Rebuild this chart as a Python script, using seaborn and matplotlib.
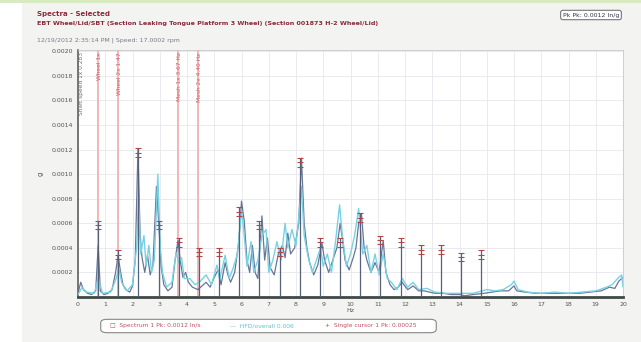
import matplotlib
matplotlib.use("Agg")
import matplotlib.pyplot as plt
from matplotlib.patches import Rectangle, FancyBboxPatch
import numpy as np
import pandas as pd
import seaborn as sns

# Spectrum traces (frequency in Hz, amplitude in units of 1e-4 g)
dark_freq = [0.0, 0.1, 0.2, 0.35, 0.5, 0.65, 0.74, 0.82, 0.95, 1.1, 1.25, 1.38, 1.47, 1.55, 1.65,
             1.75, 1.9, 2.0, 2.1, 2.2, 2.28, 2.35, 2.45, 2.55, 2.65, 2.75, 2.88, 2.95, 3.05, 3.15,
             3.3, 3.45, 3.55, 3.67, 3.75, 3.85, 3.95, 4.05, 4.2, 4.4, 4.55, 4.7, 4.85, 5.0, 5.14,
             5.25, 5.4, 5.5, 5.6, 5.75, 5.9, 6.0, 6.1, 6.2, 6.3, 6.4, 6.5, 6.6, 6.75, 6.85, 6.95,
             7.05, 7.2, 7.35, 7.5, 7.6, 7.7, 7.8, 7.95, 8.1, 8.2, 8.3, 8.4, 8.5, 8.65, 8.8, 8.95,
             9.05, 9.2, 9.35, 9.5, 9.62, 9.7, 9.8, 9.95, 10.1, 10.2, 10.3, 10.4, 10.5, 10.6, 10.75,
             10.9, 11.05, 11.2, 11.3, 11.45, 11.6, 11.75, 11.9, 11.96, 12.1, 12.3, 12.5, 12.7, 12.9,
             13.1, 13.4, 13.7, 14.0, 14.2, 14.5, 14.9, 15.2, 15.5, 15.8, 16.0, 16.1, 16.4, 16.8,
             17.2, 17.6, 18.0, 18.4, 18.8, 19.2, 19.5, 19.7, 19.85, 20.0]
dark_amp = [0.3, 1.2, 0.6, 0.3, 0.2, 0.5, 4.2, 0.5, 0.2, 0.3, 0.6, 2.0, 3.4, 2.2, 1.0,
            0.6, 0.4, 0.9, 3.0, 12.0, 5.0, 3.2, 2.0, 3.4, 1.8, 2.6, 9.0, 6.5, 2.5, 1.0,
            0.5, 0.8, 2.8, 4.6, 3.0, 1.6, 2.0, 1.2, 0.8, 0.6, 0.9, 1.2, 0.8, 1.6, 2.2,
            1.0, 2.8, 1.8, 1.2, 2.0, 4.5, 7.8, 6.2, 3.0, 2.0, 4.2, 2.0, 1.5, 6.6, 3.0, 4.8,
            2.4, 1.8, 3.5, 4.2, 3.2, 5.2, 3.5, 4.0, 6.0, 11.3, 6.0, 4.0, 2.8, 1.8, 2.6, 4.4,
            3.0, 2.0, 3.0, 4.0, 6.0, 4.8, 3.0, 2.2, 3.2, 4.0, 6.0, 6.8, 4.0, 3.0, 2.0,
            2.8, 2.0, 4.6, 2.0, 1.0, 0.6, 0.8, 1.2, 1.0, 0.6, 0.9, 0.5, 0.5, 0.4,
            0.3, 0.3, 0.2, 0.2, 0.1, 0.2, 0.3, 0.4, 0.5, 0.5, 0.9, 0.5, 0.4, 0.3,
            0.3, 0.3, 0.3, 0.3, 0.4, 0.5, 0.8, 0.7, 1.3, 1.6]

cyan_freq = [0.0, 0.15, 0.3, 0.6, 0.74, 0.9, 1.2, 1.4, 1.5, 1.6, 1.8, 2.0, 2.15, 2.22, 2.3, 2.42,
             2.5, 2.6, 2.7, 2.8, 2.93, 3.02, 3.1, 3.25, 3.45, 3.6, 3.7, 3.8, 3.9, 4.1, 4.3, 4.5,
             4.7, 4.9, 5.1, 5.2, 5.4, 5.55, 5.7, 5.85, 6.0, 6.08, 6.2, 6.35, 6.45, 6.6, 6.75, 6.9,
             7.0, 7.15, 7.3, 7.45, 7.6, 7.7, 7.85, 8.0, 8.1, 8.2, 8.3, 8.45, 8.6, 8.75, 8.9, 9.0,
             9.15, 9.3, 9.45, 9.6, 9.7, 9.85, 10.0, 10.15, 10.3, 10.45, 10.6, 10.75, 10.9, 11.05,
             11.2, 11.35, 11.5, 11.7, 11.9, 12.1, 12.3, 12.5, 12.8, 13.1, 13.5, 14.0, 14.5, 15.0,
             15.3, 15.6, 15.9, 16.0, 16.15, 16.5, 17.0, 17.5, 18.0, 18.5, 19.0, 19.4, 19.6, 19.8,
             19.95, 20.0]
cyan_amp = [0.2, 0.8, 0.4, 0.3, 1.5, 0.3, 0.4, 1.5, 2.4, 1.2, 0.5, 1.0, 4.0, 8.0, 3.5, 5.0,
            2.5, 4.2, 2.0, 3.0, 10.0, 4.0, 2.0, 0.8, 1.2, 3.6, 2.8, 3.2, 1.5, 1.5, 1.0, 1.3,
            1.8, 1.0, 2.6, 1.4, 3.4, 1.5, 2.4, 3.5, 7.0, 5.5, 2.5, 4.5, 2.0, 3.0, 5.0, 5.5,
            2.0, 3.0, 4.5, 3.0, 6.0, 4.0, 5.5, 4.2, 6.5, 9.0, 5.0, 3.2, 2.0, 3.0, 4.0, 2.5,
            3.5, 2.0, 4.5, 7.5, 5.0, 2.5, 3.5, 5.0, 7.2, 3.5, 4.2, 2.0, 3.5, 1.8,
            3.5, 1.5, 1.2, 0.6, 1.5, 0.8, 1.2, 0.6, 0.7, 0.4, 0.3, 0.3, 0.3, 0.6,
            0.5, 0.6, 1.0, 1.3, 0.6, 0.4, 0.3, 0.4, 0.3, 0.4, 0.5, 0.8, 1.0, 1.5,
            1.8, 0.8]

# Harmonic cursor family: fundamental and peak heights (1e-4 g)
harmonic_f0 = 0.74
harmonic_amp = [6.2, 3.8, 12.1, 6.2, 4.8, 4.0, 4.0, 7.3, 6.2, 4.0, 11.3, 4.8, 4.8, 6.8, 5.0,
                4.8, 4.2, 4.2, 3.6, 3.8]

# Fault frequency lines and their labels
fault_freq = [0.0, 0.74, 1.47, 3.67, 4.40]
fault_labels = ["Shaft speed 1x 0.283", "Wheel 1x", "Wheel 2x 1.47", "Mesh 1x 3.67 Hz", "Mesh 2x 4.40 Hz"]
fault_colors = ["#707070", "#d06060", "#d06060", "#d06060", "#d06060"]

x_ticks = list(range(0, 21))
y_ticks = [0.0002, 0.0004, 0.0006, 0.0008, 0.0010, 0.0012, 0.0014, 0.0016, 0.0018, 0.0020]

scale = 1e-4
dark_df = pd.DataFrame({"Hz": dark_freq, "g": np.array(dark_amp) * scale})
cyan_df = pd.DataFrame({"Hz": cyan_freq, "g": np.array(cyan_amp) * scale})

sns.set_theme(style="white")
plt.rcParams["font.family"] = ["DejaVu Sans"]

fig = plt.figure(figsize=(6.41, 3.42), dpi=100, facecolor="#f3f3f1")
# white strip on the left edge and thin green rule along the top
fig.patches.append(Rectangle((0, 0), 22 / 641, 1, transform=fig.transFigure,
                             facecolor="white", edgecolor="none", zorder=0))
fig.patches.append(Rectangle((0, 1 - 3 / 342), 1, 3 / 342, transform=fig.transFigure,
                             facecolor="#d6ebc4", edgecolor="none", zorder=0))

ax = fig.add_axes([78 / 641, 45 / 342, 545 / 641, 247 / 342])
ax.set_facecolor("white")

# grid
for xt in x_ticks:
    ax.axvline(xt, color="#e6e6ee", lw=0.6, zorder=0)
for yt in y_ticks:
    ax.axhline(yt, color="#e6e6ee", lw=0.6, zorder=0)

# fault frequency lines
for f, lab, c in zip(fault_freq, fault_labels, fault_colors):
    if f > 0:
        ax.axvline(f, color="#f0b8b8", lw=1.4, zorder=1)
    ax.text(f + 0.05, 0.00199, lab, rotation=90, va="top", ha="left" if f == 0 else "center",
            fontsize=4.2, color=c, zorder=5)

sns.lineplot(data=cyan_df, x="Hz", y="g", ax=ax, color="#78d2e4", lw=1.0, zorder=3)
sns.lineplot(data=dark_df, x="Hz", y="g", ax=ax, color="#56688c", lw=0.9, zorder=2, alpha=0.9)

# harmonic cursors
for n, h in enumerate(harmonic_amp, start=1):
    f = n * harmonic_f0
    top = h * scale
    ax.plot([f, f], [0, top], color="#55607a", lw=0.9, zorder=4)
    for k in range(3):
        ax.plot(f, top - k * 0.000035, marker="_", ms=4, mew=0.8, color="#b04848", zorder=5)

ax.set_xlim(0, 20)
ax.set_ylim(0, 0.00201)
ax.set_xticks(x_ticks)
ax.set_xticklabels([str(t) for t in x_ticks], fontsize=4.5, color="#555555")
ax.set_yticks(y_ticks)
ax.set_yticklabels([f"{t:.4f}" for t in y_ticks], fontsize=4.5, color="#555555")
ax.tick_params(length=2, width=0.5, pad=1.5)
ax.set_xlabel("Hz", fontsize=4.5, color="#555555", labelpad=1)
ax.set_ylabel("g", fontsize=5, color="#555555", labelpad=6)

for s in ["top", "right"]:
    ax.spines[s].set_color("#c8c8c8")
    ax.spines[s].set_linewidth(0.6)
ax.spines["left"].set_color("#606060")
ax.spines["left"].set_linewidth(1.2)
ax.spines["bottom"].set_color("#404848")
ax.spines["bottom"].set_linewidth(2.0)

# header text
fig.text(37 / 641, 1 - 14 / 342, "Spectra - Selected", fontsize=5, color="#8a2a3a",
         fontweight="bold", va="center")
fig.text(37 / 641, 1 - 24 / 342,
         "EBT Wheel/Lid/SBT (Section Leaking Tongue Platform 3 Wheel) (Section 001873 H-2 Wheel/Lid)",
         fontsize=4.6, color="#8a2a3a", fontweight="bold", va="center")
fig.text(37 / 641, 1 - 40 / 342, "12/19/2012 2:35:14 PM | Speed: 17.0002 rpm", fontsize=4.5,
         color="#7a7a8a", va="center")
fig.text(591 / 641, 1 - 15 / 342, "Pk Pk: 0.0012 In/g", fontsize=4.5, color="#333355",
         ha="center", va="center",
         bbox=dict(boxstyle="round,pad=0.35", fc="white", ec="#777777", lw=0.8))

# legend strip
fig.patches.append(FancyBboxPatch((102 / 641, 10 / 342), 333 / 641, 12 / 342,
                                  boxstyle="round,pad=0.002,rounding_size=0.01",
                                  transform=fig.transFigure, facecolor="white",
                                  edgecolor="#888888", lw=0.8, zorder=1))
fig.text(110 / 641, 16 / 342, "\u25a1  Spectrum 1 Pk: 0.0012 In/s", fontsize=4.3, color="#c05060",
         va="center")
fig.text(230 / 641, 16 / 342, "\u2014  HFD/overall 0.006", fontsize=4.3, color="#60c0d8",
         va="center")
fig.text(325 / 641, 16 / 342, "+  Single cursor 1 Pk: 0.00025", fontsize=4.3, color="#c05060",
         va="center")

fig.savefig("out.png", dpi=100, facecolor=fig.get_facecolor())
